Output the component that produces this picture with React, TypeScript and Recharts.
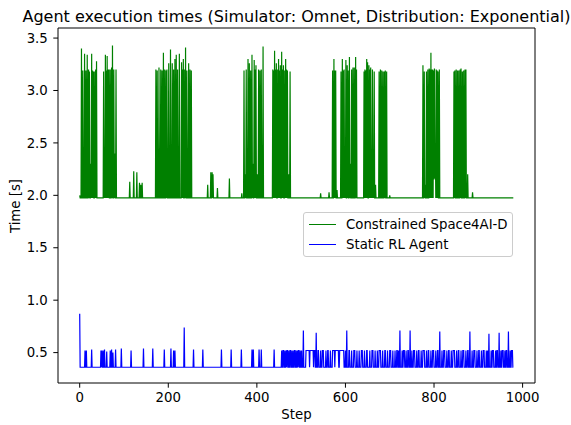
import { LineChart, Line, XAxis, YAxis, ReferenceArea, Legend } from "recharts";

const stepCount = 980;
const xTicks = [0, 200, 400, 600, 800, 1000];
const yTicks = [0.5, 1.0, 1.5, 2.0, 2.5, 3.0, 3.5];

// Constrained Space4AI-D: flat around 1.975 with bursts of peaks
const constrainedStart = 2.0;
const constrainedBase = 1.975;
const constrainedPeaks: [number, number][] = [
  [4, 3.4], [7, 3.19], [11, 3.35], [14, 3.19], [17, 3.34], [20, 3.2], [22, 3.18], [25, 2.3],
  [27, 3.35], [29, 3.19], [31, 3.18], [34, 3.18], [36, 3.2], [38, 3.28],
  [54, 3.18], [56, 2.15], [58, 3.34], [60, 3.19], [62, 3.33], [64, 3.2], [66, 3.2], [69, 3.2],
  [72, 3.22], [74, 3.43], [77, 3.2], [79, 2.4], [82, 3.2],
  [113, 2.13], [122, 2.23], [129, 2.22], [135, 2.12], [138, 2.1], [141, 2.12],
  [172, 3.2], [175, 3.19], [179, 3.22], [183, 3.2], [186, 3.19], [189, 3.36], [192, 3.2],
  [195, 3.19], [197, 3.2], [201, 3.26], [205, 3.39], [209, 3.26], [212, 3.2], [215, 3.3],
  [218, 3.34], [221, 3.2], [225, 3.35], [230, 3.27], [232, 3.2], [234, 3.3], [237, 3.2],
  [239, 3.41], [242, 3.19], [246, 3.26], [249, 3.2], [252, 3.19],
  [289, 2.1], [296, 2.22], [299, 2.22], [301, 2.2], [311, 2.07], [338, 2.16], [366, 2.02],
  [371, 3.19], [374, 2.2], [376, 3.2], [380, 3.3], [383, 3.26], [386, 3.19], [389, 3.34],
  [391, 2.3], [394, 3.29], [396, 3.2], [398, 3.24], [401, 2.2], [404, 3.2], [407, 3.19],
  [410, 3.2], [414, 3.42],
  [436, 3.2], [438, 3.19], [440, 3.38], [442, 3.2], [444, 3.26], [447, 3.2], [449, 3.3],
  [451, 3.19], [453, 3.24], [456, 3.37], [458, 3.2], [460, 3.24], [463, 3.19], [465, 3.3],
  [467, 3.2], [469, 3.19], [472, 2.2], [475, 3.18],
  [544, 2.02], [563, 2.03],
  [571, 3.19], [574, 3.3], [576, 3.19], [578, 3.19], [581, 2.05], [590, 3.18], [593, 3.3],
  [595, 3.19], [597, 3.2], [599, 2.2], [601, 3.29], [604, 3.24], [606, 3.19], [609, 3.32],
  [611, 2.3], [614, 3.2], [617, 3.22], [620, 3.22], [623, 3.32], [625, 3.2],
  [642, 3.18], [644, 3.2], [646, 3.19], [648, 3.3], [650, 3.27], [653, 3.24], [655, 3.2],
  [657, 3.22], [659, 2.4], [661, 3.2], [663, 2.3], [665, 3.18], [668, 2.1], [676, 3.18],
  [679, 3.2], [682, 3.19], [685, 3.18], [688, 3.18], [690, 3.19], [693, 3.18],
  [700, 2.0],
  [775, 3.24], [778, 3.18], [780, 2.1], [783, 3.18], [786, 3.2], [789, 3.21], [791, 3.2],
  [793, 3.36], [795, 3.2], [797, 3.2], [799, 3.19], [800, 2.15], [801, 3.21], [802, 2.16],
  [803, 2.45], [805, 3.2], [807, 3.19], [809, 3.18], [812, 3.2],
  [845, 3.18], [847, 3.19], [850, 3.2], [853, 3.19], [856, 3.19], [859, 3.2], [861, 3.21],
  [864, 3.18], [867, 3.19], [870, 3.2], [872, 3.2], [876, 2.2],
  [887, 2.03],
];

// Static RL Agent: flat around 0.36, switching up to ~0.52
const staticStart = 0.87;
const staticBase = 0.36;
const staticHigh = 0.52;
const staticPeaks: [number, number][] = [
  [12, 0.52], [15, 0.52], [27, 0.53], [48, 0.52], [50, 0.52], [53, 0.52], [56, 0.53],
  [61, 0.51], [69, 0.52], [72, 0.53], [75, 0.5], [81, 0.53], [94, 0.54], [116, 0.52],
  [144, 0.54], [165, 0.54], [191, 0.53], [206, 0.54], [212, 0.52], [215, 0.52], [236, 0.74],
  [257, 0.53], [278, 0.53], [320, 0.53], [342, 0.53], [365, 0.53], [389, 0.53], [392, 0.53],
  [405, 0.53], [410, 0.53], [439, 0.53],
  [505, 0.71], [534, 0.69], [603, 0.71], [723, 0.71], [746, 0.71], [813, 0.7], [881, 0.7],
  [924, 0.68], [947, 0.69], [968, 0.7],
];
const staticHighRuns: [number, number][] = [
  [456, 456], [459, 460], [463, 463], [466, 466], [468, 469], [472, 472], [475, 476],
  [479, 479], [482, 482], [485, 486], [489, 489], [492, 492], [494, 495], [498, 498],
  [501, 501], [511, 518], [520, 527], [529, 531], [538, 539], [544, 544], [548, 550],
  [556, 556], [560, 561], [566, 566], [571, 575], [577, 584], [587, 596], [600, 600],
  [608, 609], [614, 614], [619, 621], [626, 626], [631, 631], [636, 638], [643, 643],
  [648, 649], [655, 655], [660, 662], [667, 667], [672, 672], [676, 679], [684, 684],
  [689, 690], [695, 695], [700, 702], [707, 707], [712, 712], [716, 717], [720, 720],
  [728, 728], [731, 733], [737, 737], [741, 742], [750, 750], [754, 756], [761, 761],
  [765, 766], [771, 771], [775, 778], [783, 783], [787, 788], [793, 793], [797, 799],
  [804, 804], [808, 809], [818, 818], [822, 824], [829, 829], [833, 834], [839, 839],
  [843, 846], [851, 851], [855, 856], [861, 861], [865, 867], [872, 872], [876, 877],
  [886, 886], [890, 892], [897, 897], [901, 902], [907, 907], [911, 913], [918, 918],
  [921, 921], [929, 929], [932, 934], [939, 939], [942, 943], [951, 951], [954, 956],
  [960, 960], [963, 964], [972, 972], [975, 977],
];

const data = Array.from({ length: stepCount }, (_, step) => ({
  step,
  constrained: constrainedBase,
  rl: staticBase,
}));
data[0].constrained = constrainedStart;
data[0].rl = staticStart;
for (const [s, v] of constrainedPeaks) data[s].constrained = v;
for (const [a, b] of staticHighRuns) for (let s = a; s <= b; s++) data[s].rl = staticHigh;
for (const [s, v] of staticPeaks) data[s].rl = v;

const legendItems = [
  { label: "Constrained Space4AI-D", color: "#008000" },
  { label: "Static RL Agent", color: "#0000ff" },
];

const font = "'DejaVu Sans', sans-serif";
const fontSize = 13.3;
const xDomain = [-49, 1028];
const yDomain = [0.21, 3.596];

function LegendBox() {
  return (
    <div
      style={{
        width: 210,
        height: 45,
        boxSizing: "border-box",
        border: "1px solid #cccccc",
        borderRadius: 3,
        background: "rgba(255,255,255,0.8)",
        position: "relative",
        fontFamily: font,
        fontSize,
        color: "#000",
      }}
    >
      {legendItems.map((it, i) => (
        <div key={it.label}>
          <div
            style={{
              position: "absolute",
              left: 5,
              top: 10.5 + i * 20,
              width: 27,
              height: 1.2,
              background: it.color,
            }}
          />
          <div style={{ position: "absolute", left: 42, top: 2.5 + i * 20, lineHeight: "17px", whiteSpace: "nowrap" }}>
            {it.label}
          </div>
        </div>
      ))}
    </div>
  );
}

export default function App() {
  return (
    <div style={{ position: "absolute", left: 0, top: 0, width: 571, height: 425, background: "#fff", fontFamily: font }}>
      <div
        style={{
          position: "absolute",
          left: 296.5,
          top: 16,
          transform: "translate(-50%, -50%)",
          fontSize: 16,
          whiteSpace: "nowrap",
          color: "#000",
        }}
      >
        Agent execution times (Simulator: Omnet, Distribution: Exponential)
      </div>
      <div
        style={{
          position: "absolute",
          left: 15,
          top: 206,
          transform: "translate(-50%, -50%) rotate(-90deg)",
          fontSize,
          whiteSpace: "nowrap",
          color: "#000",
        }}
      >
        Time [s]
      </div>
      <div
        style={{
          position: "absolute",
          left: 296.5,
          top: 414,
          transform: "translate(-50%, -50%)",
          fontSize,
          whiteSpace: "nowrap",
          color: "#000",
        }}
      >
        Step
      </div>
      <LineChart width={571} height={425} data={data} margin={{ top: 28, right: 36, bottom: 0, left: 0 }}>
        <XAxis
          dataKey="step"
          type="number"
          domain={xDomain}
          ticks={xTicks}
          height={42}
          axisLine={false}
          tickSize={4.7}
          tickMargin={5}
          tickLine={{ stroke: "#000", strokeWidth: 1 }}
          tick={{ fill: "#000", fontSize, fontFamily: font }}
          allowDataOverflow
        />
        <YAxis
          type="number"
          domain={yDomain}
          ticks={yTicks}
          width={58}
          axisLine={false}
          tickSize={4.7}
          tickMargin={5.5}
          tickLine={{ stroke: "#000", strokeWidth: 1 }}
          tick={{ fill: "#000", fontSize, fontFamily: font }}
          tickFormatter={(v: number) => v.toFixed(1)}
          allowDataOverflow
        />
        <Line
          dataKey="constrained"
          stroke="#008000"
          strokeWidth={1.2}
          dot={false}
          activeDot={false}
          type="linear"
          isAnimationActive={false}
        />
        <Line
          dataKey="rl"
          stroke="#0000ff"
          strokeWidth={1.2}
          dot={false}
          activeDot={false}
          type="linear"
          isAnimationActive={false}
        />
        <ReferenceArea
          x1={xDomain[0]}
          x2={xDomain[1]}
          y1={yDomain[0]}
          y2={yDomain[1]}
          fill="none"
          stroke="#000"
          strokeWidth={1}
        />
        <Legend
          layout="vertical"
          align="center"
          verticalAlign="middle"
          content={() => <LegendBox />}
          wrapperStyle={{ left: 303, top: 212, width: 210, height: 45 }}
        />
      </LineChart>
    </div>
  );
}
